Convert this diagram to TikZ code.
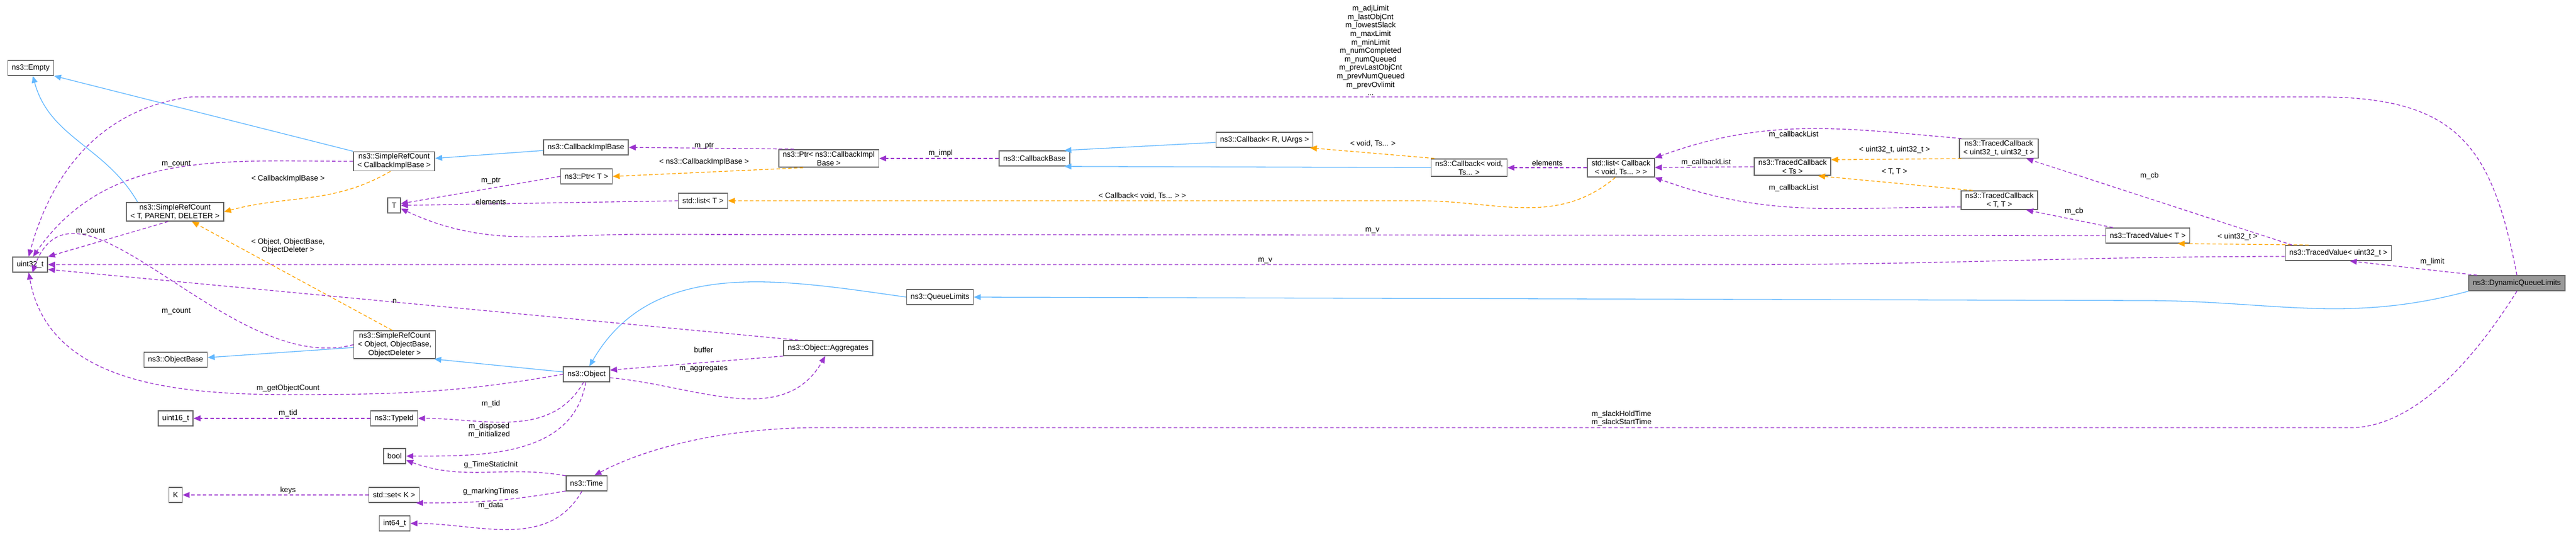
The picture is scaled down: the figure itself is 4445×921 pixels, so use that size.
\documentclass[tikz,border=0pt]{standalone}
\usepackage{fontspec}
\setmainfont{Liberation Sans}
\usetikzlibrary{arrows.meta}
\definecolor{usecol}{HTML}{9A32CD}
\definecolor{tplcol}{HTML}{FFA500}
\definecolor{inhcol}{HTML}{63B8FF}
\tikzset{
	box/.style={draw=black!60, line width=1.6pt, fill=white, align=center, inner xsep=7pt, inner ysep=3pt, minimum height=26pt, font=\fontsize{13}{15}\selectfont},
	usage/.style={draw=usecol, dashed, dash pattern=on 6pt off 4pt, line width=1.3pt, -{Triangle[length=12pt,width=10pt]}},
	tmpl/.style={draw=tplcol, dash pattern=on 6pt off 4pt, line width=1.3pt, -{Triangle[length=12pt,width=10pt]}},
	inherit/.style={draw=inhcol, line width=1.3pt, -{Triangle[length=12pt,width=10pt]}},
	lbl/.style={align=center, inner sep=0pt, font=\fontsize{13}{14.6}\selectfont}
}
\begin{document}
\begin{tikzpicture}[x=1pt,y=-1pt]
		\useasboundingbox (0,0) rectangle (4445,921);
		% classes
		\node[box] (empty) at (53,117) {ns3::Empty};
		\node[box] (uint32) at (52,456) {uint32\_t};
		\node[box] (srctpd) at (302,365) {ns3::SimpleRefCount\\< T, PARENT, DELETER >};
		\node[box] (srccib) at (680,278) {ns3::SimpleRefCount\\< CallbackImplBase >};
		\node[box] (cib) at (1011,254) {ns3::CallbackImplBase};
		\node[box] (ptrt) at (1012,304) {ns3::Ptr< T >};
		\node[box] (t) at (680,354) {T};
		\node[box] (listt) at (1213,346) {std::list< T >};
		\node[box] (ptrcib) at (1430,273) {ns3::Ptr< ns3::CallbackImpl\\Base >};
		\node[box] (cbbase) at (1785,273) {ns3::CallbackBase};
		\node[box] (cbrua) at (2182,241) {ns3::Callback< R, UArgs >};
		\node[box] (cbvoid) at (2535,289) {ns3::Callback< void,\\Ts... >};
		\node[box] (listcb) at (2797,289) {std::list< Callback\\< void, Ts... > >};
		\node[box] (tcts) at (3093,287) {ns3::TracedCallback\\< Ts >};
		\node[box] (tcuu) at (3449,256) {ns3::TracedCallback\\< uint32\_t, uint32\_t >};
		\node[box] (tctt) at (3450,345) {ns3::TracedCallback\\< T, T >};
		\node[box] (tvt) at (3706,406) {ns3::TracedValue< T >};
		\node[box] (tvu) at (4035,436) {ns3::TracedValue< uint32\_t >};
		\node[box, fill=black!40] (dql) at (4343,488) {ns3::DynamicQueueLimits};
		\node[box] (qlimits) at (1622,512) {ns3::QueueLimits};
		\node[box] (srcoob) at (681,594) {ns3::SimpleRefCount\\< Object, ObjectBase,\\ObjectDeleter >};
		\node[box] (objbase) at (303,620) {ns3::ObjectBase};
		\node[box] (object) at (1012,645) {ns3::Object};
		\node[box] (aggr) at (1429,600) {ns3::Object::Aggregates};
		\node[box] (typeid) at (680,721) {ns3::TypeId};
		\node[box] (uint16) at (303,721) {uint16\_t};
		\node[box] (bool) at (681,786) {bool};
		\node[box] (time) at (1012,833) {ns3::Time};
		\node[box] (setk) at (680,853) {std::set< K >};
		\node[box] (k) at (303,853) {K};
		\node[box] (int64) at (681,902) {int64\_t};
		% inheritance
		\draw[inherit] (srccib.north west) -- (empty.south east);
		\draw[inherit] (srctpd.north west) ++(20,0) to[out=120,in=-75] (empty.-75);
		\draw[inherit] (cib) -- (srccib);
		\draw[inherit] (srcoob) -- (objbase);
		\draw[inherit] (object) -- (srcoob.-20);
		\draw[inherit] (qlimits.west) to[out=172,in=60] (object.70);
		\draw[inherit] (dql.south west) to[out=-165,in=0] (3700,518) -- (qlimits.east);
		\draw[inherit] (cbrua) -- (cbbase.15);
		\draw[inherit] (cbvoid) -- (cbbase.-15);
		% templates
		\draw[tmpl] (srccib.-110) to[out=-150,in=15] (srctpd.east);
		\draw[tmpl] (srcoob.100) -- (srctpd.-30);
		\draw[tmpl] (ptrcib.-160) -- (ptrt.east);
		\draw[tmpl] (listcb.-120) to[out=-140,in=0] (2450,346) -- (listt.east);
		\draw[tmpl] (cbvoid.165) -- (cbrua.-10);
		\draw[tmpl] (tcuu.-165) -- (tcts.10);
		\draw[tmpl] (tctt.160) -- (tcts.-20);
		\draw[tmpl] (tvu.165) -- (tvt.-15);
		% members
		\draw[usage] (dql.north) .. controls (4300,250) and (4240,167) .. (4000,167) -- (330,167) .. controls (150,190) and (80,330) .. (uint32.100);
		\draw[usage] (srccib.west) to[out=180,in=55] (uint32.70);
		\draw[usage] (srctpd.-125) -- (uint32.north east);
		\draw[usage] (srcoob.west) to[out=195,in=70] (uint32.-75);
		\draw[usage] (aggr.165) -- (uint32.-15);
		\draw[usage] (object.west) to[out=190,in=0] (497,680) to[out=180,in=-80] (uint32.-100);
		\draw[usage] (tvu.west) ++(0,6) to[out=180,in=0] (3000,456) -- (uint32.east);
		\draw[usage] (tvt.west) -- (1100,404) to[out=180,in=-25] (t.-25);
		\draw[usage] (ptrt.west) -- (t.15);
		\draw[usage] (listt.west) -- (t.east);
		\draw[usage] (ptrcib.165) -- (cib.east);
		\draw[usage] (cbbase) -- (ptrcib);
		\draw[usage] (listcb) -- (cbvoid);
		\draw[usage] (tcuu.165) to[out=175,in=20] (listcb.north east);
		\draw[usage] (tcts) -- (listcb);
		\draw[usage] (tctt.-170) to[out=180,in=-20] (listcb.south east);
		\draw[usage] (tvu.north) ++(-80,0) -- (tcuu.-20);
		\draw[usage] (tvt.north) ++(-60,0) -- (tctt.-20);
		\draw[usage] (dql.north west) ++(15,0) -- (tvu.-35);
		\draw[usage] (dql.south) .. controls (4250,650) and (4150,737) .. (4056,737) -- (1400,737) .. controls (1200,740) and (1080,790) .. (time.45);
		\draw[usage] (object.east) ++(0,6) to[out=-5,in=-120] (aggr.-110);
		\draw[usage] (aggr.-170) -- (object.10);
		\draw[usage] (object.-110) to[out=-120,in=0] (typeid.east);
		\draw[usage] (typeid) -- (uint16);
		\draw[usage] (object.-95) to[out=-100,in=0] (bool.east);
		\draw[usage] (time.160) to[out=170,in=-20] (bool.-20);
		\draw[usage] (time.-160) to[out=-170,in=0] (setk.-20);
		\draw[usage] (setk) -- (k);
		\draw[usage] (time.-120) to[out=-120,in=0] (int64.east);
		% labels
		\node[lbl] (lbig) at (2365,87) {m\_adjLimit\\m\_lastObjCnt\\m\_lowestSlack\\m\_maxLimit\\m\_minLimit\\m\_numCompleted\\m\_numQueued\\m\_prevLastObjCnt\\m\_prevNumQueued\\m\_prevOvlimit\\...};
		\node[lbl] (lcount1) at (304,283) {m\_count};
		\node[lbl] (lcib) at (497,308) {< CallbackImplBase >};
		\node[lbl] (lptr1) at (847,312) {m\_ptr};
		\node[lbl] (lelem1) at (847,348) {elements};
		\node[lbl] (lcount2) at (156,399) {m\_count};
		\node[lbl] (loob) at (497,424) {< Object, ObjectBase,\\ObjectDeleter >};
		\node[lbl] (ln) at (681,519) {n};
		\node[lbl] (lcount3) at (304,537) {m\_count};
		\node[lbl] (lbuffer) at (1214,603) {buffer};
		\node[lbl] (laggr) at (1214,636) {m\_aggregates};
		\node[lbl] (lgoc) at (497,669) {m\_getObjectCount};
		\node[lbl] (ltid1) at (847,696) {m\_tid};
		\node[lbl] (ltid2) at (497,712) {m\_tid};
		\node[lbl] (ldisp) at (844,742) {m\_disposed\\m\_initialized};
		\node[lbl] (lgtsi) at (847,801) {g\_TimeStaticInit};
		\node[lbl] (lkeys) at (497,845) {keys};
		\node[lbl] (lgmt) at (847,847) {g\_markingTimes};
		\node[lbl] (ldata) at (847,871) {m\_data};
		\node[lbl] (lptr2) at (1215,252) {m\_ptr};
		\node[lbl] (lpcib) at (1215,279) {< ns3::CallbackImplBase >};
		\node[lbl] (limpl) at (1623,264) {m\_impl};
		\node[lbl] (lcbv) at (1971,338) {< Callback< void, Ts... > >};
		\node[lbl] (lvts) at (2369,248) {< void, Ts... >};
		\node[lbl] (lelem2) at (2670,281) {elements};
		\node[lbl] (lcbl1) at (3095,232) {m\_callbackList};
		\node[lbl] (lcbl2) at (2944,280) {m\_callbackList};
		\node[lbl] (lcbl3) at (3095,324) {m\_callbackList};
		\node[lbl] (luu) at (3269,258) {< uint32\_t, uint32\_t >};
		\node[lbl] (ltt) at (3269,296) {< T, T >};
		\node[lbl] (lv1) at (2368,397) {m\_v};
		\node[lbl] (lv2) at (2183,449) {m\_v};
		\node[lbl] (lcb1) at (3709,303) {m\_cb};
		\node[lbl] (lcb2) at (3579,364) {m\_cb};
		\node[lbl] (lu) at (3861,408) {< uint32\_t >};
		\node[lbl] (llimit) at (4197,451) {m\_limit};
		\node[lbl] (lslack) at (2798,721) {m\_slackHoldTime\\m\_slackStartTime};
\end{tikzpicture}
\end{document}
